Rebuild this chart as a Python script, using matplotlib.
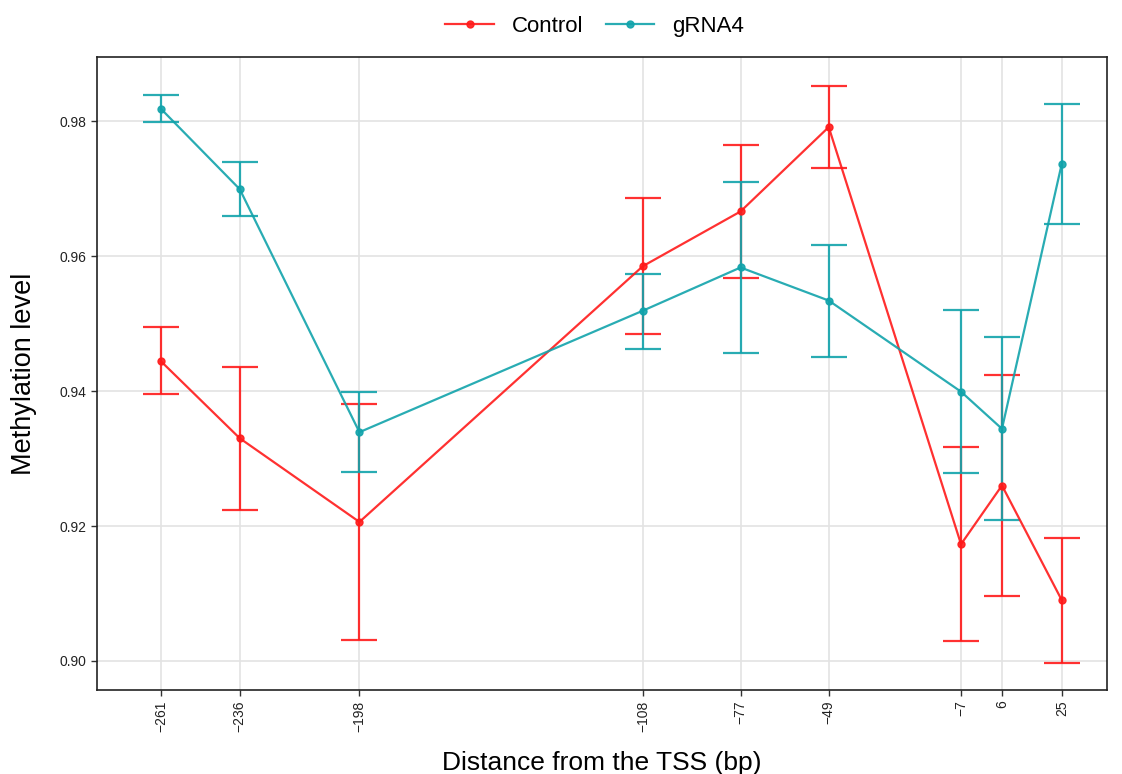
import matplotlib
matplotlib.use("Agg")
import matplotlib.pyplot as plt

plt.rcParams["font.family"] = ["Liberation Sans", "DejaVu Sans"]

# distance from TSS (bp)
positions = [-261, -236, -198, -108, -77, -49, -7, 6, 25]

control_mean = [0.9444, 0.9330, 0.9206, 0.9585, 0.9666, 0.9791, 0.9173, 0.9260, 0.9090]
control_hi = [0.9495, 0.9436, 0.9381, 0.9686, 0.9765, 0.9852, 0.9317, 0.9424, 0.9182]
control_lo = [0.9395, 0.9224, 0.9031, 0.9484, 0.9567, 0.9731, 0.9029, 0.9097, 0.8997]

grna4_mean = [0.9818, 0.9699, 0.9339, 0.9519, 0.9583, 0.9534, 0.9399, 0.9344, 0.9737]
grna4_hi = [0.9838, 0.9740, 0.9398, 0.9574, 0.9710, 0.9617, 0.9520, 0.9480, 0.9825]
grna4_lo = [0.9799, 0.9659, 0.9280, 0.9462, 0.9456, 0.9451, 0.9278, 0.9209, 0.9648]

fig = plt.figure(figsize=(11.22, 7.74), dpi=100)
ax = fig.add_axes([0.0865, 0.1085, 0.9, 0.818])

series = [
    ("Control", control_mean, control_lo, control_hi, "#FF1A1A"),
    ("gRNA4", grna4_mean, grna4_lo, grna4_hi, "#11A3AB"),
]
for name, mean, lo, hi, col in series:
    yerr = [[m - l for m, l in zip(mean, lo)], [h - m for m, h in zip(mean, hi)]]
    ax.errorbar(positions, mean, yerr=yerr, color=col, lw=1.6, elinewidth=1.6,
                capsize=13, capthick=1.6, marker="o", markersize=5, alpha=0.9,
                label=name, zorder=3)

ax.set_xlim(-281.3, 39.3)
ax.set_ylim(0.8957, 0.9895)
ax.set_xticks(positions)
ax.set_xticklabels([str(p).replace("-", "\u2212") for p in positions], rotation=90)
ax.set_yticks([0.90, 0.92, 0.94, 0.96, 0.98])
ax.set_yticklabels(["0.90", "0.92", "0.94", "0.96", "0.98"])
ax.tick_params(labelsize=10, length=4, width=1, color="#333333", labelcolor="#222222")
ax.grid(True, color="#E3E3E3", lw=1.2, zorder=0)
ax.set_axisbelow(True)
for s in ax.spines.values():
    s.set_color("#222222")
    s.set_linewidth(1.2)

ax.set_xlabel("Distance from the TSS (bp)", fontsize=19, labelpad=14)
ax.set_ylabel("Methylation level", fontsize=19.5, labelpad=16)

handles, labels = ax.get_legend_handles_labels()
handles = [h[0] for h in handles]
fig.legend(handles, labels, loc="upper center", bbox_to_anchor=(0.53, 1.005), ncol=2,
           frameon=False, fontsize=16, handlelength=2.2, columnspacing=1.0,
           handletextpad=0.8)

fig.savefig("out.png", dpi=100)
